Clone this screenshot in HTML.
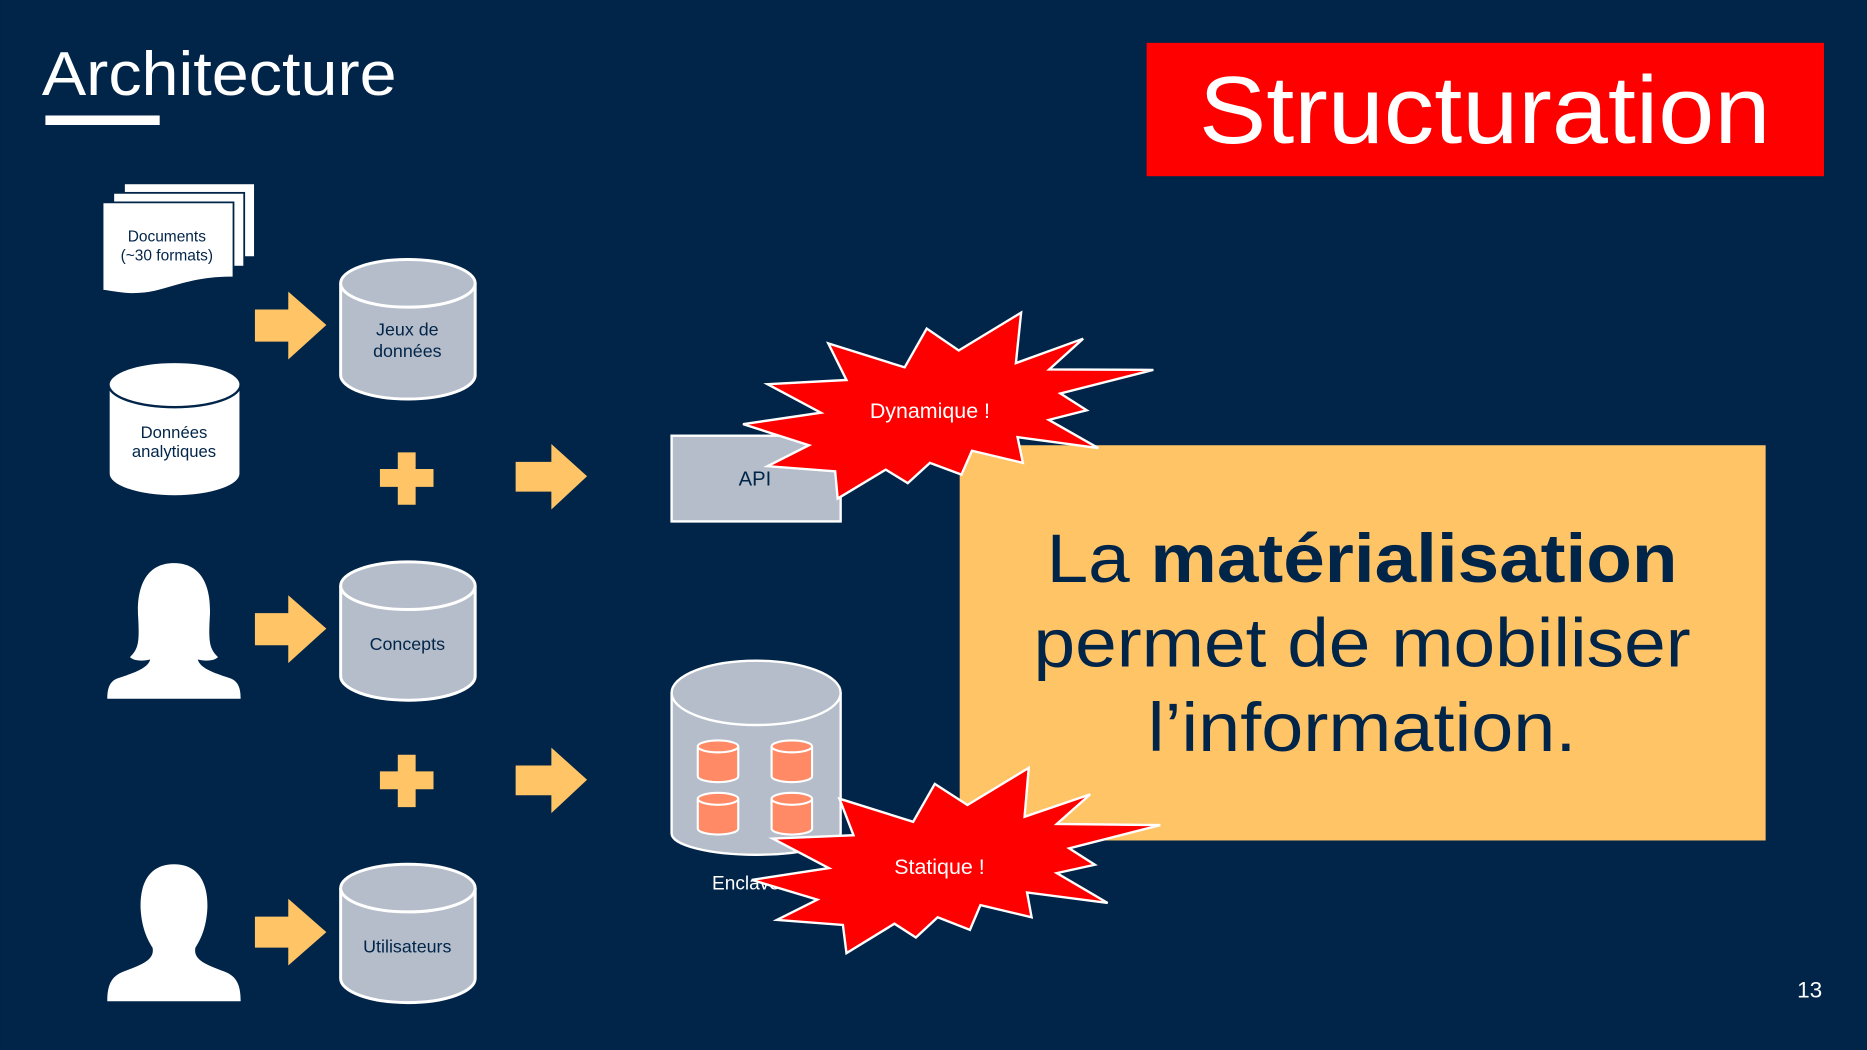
<!DOCTYPE html>
<html><head><meta charset="utf-8"><style>
html,body{margin:0;padding:0;background:#012449;}
svg{display:block}
text{font-family:"Liberation Sans",sans-serif}
</style></head><body>
<svg width="1867" height="1050" viewBox="0 0 1568 882" xmlns="http://www.w3.org/2000/svg">
<rect width="1568" height="882" fill="#012449"/>
<text x="35" y="80" font-size="52" fill="#fff" font-family="'DejaVu Sans','Liberation Sans',sans-serif" textLength="298" lengthAdjust="spacingAndGlyphs">Architecture</text>
<rect x="38" y="97" width="96" height="8" fill="#fff"/>
<rect x="963" y="36" width="569" height="112" fill="#ff0000"/>
<text x="1247" y="120" font-size="80" fill="#fff" text-anchor="middle" font-family="'DejaVu Sans','Liberation Sans',sans-serif" textLength="480" lengthAdjust="spacingAndGlyphs">Structuration</text>

<!-- documents -->
<g fill="#fff" stroke="#012449" stroke-width="1.5">
<rect x="104" y="154" width="110" height="62"/>
<rect x="95" y="162" width="110" height="62"/>
<path d="M86 170 H196 V233 C165 233 150 240 130 245 C112 249 98 246 86 244 Z"/>
</g>
<g font-size="13" fill="#012449" text-anchor="middle">
<text x="140" y="203">Documents</text>
<text x="140" y="219">(~30 formats)</text>
</g>

<!-- cylinders -->
<g stroke="#fff" stroke-width="2.5" fill="#b4bdc9">
<path d="M286 238 V315 A56 20 0 0 0 399 315 V238"/><ellipse cx="342.5" cy="238" rx="56.5" ry="20"/>
<path d="M286 492 V568 A56 20 0 0 0 399 568 V492"/><ellipse cx="342.5" cy="492" rx="56.5" ry="20"/>
<path d="M286 746 V822 A56 20 0 0 0 399 822 V746"/><ellipse cx="342.5" cy="746" rx="56.5" ry="20"/>
</g>
<g stroke="#012449" stroke-width="2" fill="#fff">
<path d="M91 323 V398 A55.5 19 0 0 0 202 398 V323"/><ellipse cx="146.5" cy="323" rx="55.5" ry="19"/>
</g>
<g font-size="15" fill="#012449" text-anchor="middle">
<text x="342" y="282">Jeux de</text><text x="342" y="300">données</text>
<text x="342" y="546">Concepts</text>
<text x="342" y="800">Utilisateurs</text>
<text x="146" y="368" font-size="14">Données</text><text x="146" y="384" font-size="14">analytiques</text>
</g>

<!-- arrows -->
<g fill="#ffc466">
<path d="M214 260 H242 V245 L274 273 L242 302 V287 H214 Z"/>
<path d="M214 515 H242 V500 L274 528 L242 557 V542 H214 Z"/>
<path d="M214 770 H242 V755 L274 783 L242 811 V796 H214 Z"/>
<path d="M433 388 H463 V373 L493 400 L463 428 V413 H433 Z"/>
<path d="M433 643 H463 V628 L493 655 L463 683 V668 H433 Z"/>
<path d="M334 380 H349 V394 H364 V409 H349 V424 H334 V409 H319 V394 H334 Z"/>
<path d="M334 634 H349 V648 H364 V663 H349 V678 H334 V663 H319 V648 H334 Z"/>
</g>

<!-- persons -->
<g fill="#fff">
<path d="M146 473 C122 473 114 494 116 520 C117 540 116 545 109 552 C113 556 122 555 126 554 C124 562 110 566 98 570 C91 573 90 580 90 587 H202 C202 580 201 573 194 570 C182 566 168 562 166 554 C170 555 179 556 183 552 C176 545 175 540 176 520 C178 494 170 473 146 473 Z"/>
<path d="M146 726 C124 726 117 744 118 764 C119 780 124 790 128 796 C130 806 120 810 104 816 C93 820 90 828 90 841 H202 C202 828 199 820 188 816 C172 810 162 806 164 796 C168 790 173 780 174 764 C175 744 168 726 146 726 Z"/>
</g>

<!-- API -->
<rect x="564" y="366" width="142" height="72" fill="#b4bdc9" stroke="#fff" stroke-width="2"/>
<text x="634" y="408" font-size="17" fill="#012449" text-anchor="middle">API</text>

<!-- Enclave -->
<g stroke="#fff" stroke-width="2">
<path d="M564 582 V700 A71 18 0 0 0 706 700 V582" fill="#b4bdc9"/>
<ellipse cx="635" cy="582" rx="71" ry="27" fill="#b4bdc9"/>
<g fill="#ff8a65" stroke-width="1.8">
<path d="M586 627 V652 A17 5 0 0 0 620 652 V627"/><ellipse cx="603" cy="627" rx="17" ry="5"/>
<path d="M648 627 V652 A17 5 0 0 0 682 652 V627"/><ellipse cx="665" cy="627" rx="17" ry="5"/>
<path d="M586 671 V696 A17 5 0 0 0 620 696 V671"/><ellipse cx="603" cy="671" rx="17" ry="5"/>
<path d="M648 671 V696 A17 5 0 0 0 682 696 V671"/><ellipse cx="665" cy="671" rx="17" ry="5"/>
</g>
</g>
<text x="598" y="747" font-size="16" fill="#fff">Enclave</text>

<!-- orange box -->
<rect x="806" y="374" width="677" height="332" fill="#ffc466"/>
<g font-family="'DejaVu Sans','Liberation Sans',sans-serif" fill="#012449" text-anchor="middle" font-size="58">
<text x="1144" y="489" textLength="530" lengthAdjust="spacingAndGlyphs">La <tspan font-weight="bold">matérialisation</tspan></text>
<text x="1144" y="560" textLength="552" lengthAdjust="spacingAndGlyphs">permet de mobiliser</text>
<text x="1144" y="631" textLength="360" lengthAdjust="spacingAndGlyphs">l’information.</text>
</g>

<!-- starbursts -->
<polygon fill="#ff0000" stroke="#fff" stroke-width="2" points="695.6,288.4 759.8,308.6 778.3,276 805.2,294.4 857.6,262.6 853.2,305 909.7,284.5 881.2,310.3 968.7,310.7 890.6,330.5 912.7,344.6 880.9,352.7 922.4,376.4 854.6,367.2 859.1,388.8 816.3,378.6 807.5,398.7 781,388.8 762.4,405.8 743.9,394.5 703.5,418.8 701.4,395.9 644.6,391.6 679.4,374 624,356.3 689.4,346.7 644.6,322.7 710.9,319.2"/>
<text x="781" y="351" font-size="18" fill="#fff" text-anchor="middle">Dynamique !</text>
<polygon fill="#ff0000" stroke="#fff" stroke-width="2" points="705,670.9 766.9,690.3 785.1,658.5 812.5,676.2 864,645 860.5,686.1 915.6,667.3 887.6,692.1 974.5,693.1 898,712.6 919.5,726.4 887.6,733.4 930.3,758.5 862.6,749.7 866.4,770.5 823.4,760.3 814.6,781.1 787.5,770.5 769.2,787.5 751.2,775.9 710.9,800.6 707.9,777 652.5,772.7 686.4,755.7 631.3,739.1 696.1,729.2 649,704.4 716.8,701.6"/>
<text x="789" y="734" font-size="18" fill="#fff" text-anchor="middle">Statique !</text>

<text x="1520" y="838" font-size="19" fill="#fff" text-anchor="middle" font-family="'DejaVu Sans','Liberation Sans',sans-serif">13</text>
</svg>
</body></html>
